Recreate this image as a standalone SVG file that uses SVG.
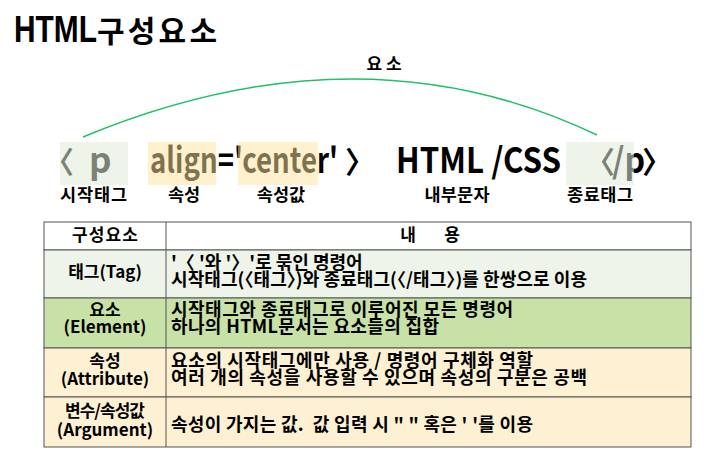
<svg xmlns="http://www.w3.org/2000/svg" width="710" height="457" viewBox="0 0 710 457">
<style>
text{font-family:"Noto Sans CJK KR","Liberation Sans",sans-serif;font-weight:700;fill:#000}
.big{font-size:35px}
.lbl{font-size:17.5px;text-anchor:middle}
.t{font-size:17px}
.r{font-size:18px}
.c{text-anchor:middle}
.cell{stroke:#555;stroke-width:1}
</style>
<rect width="710" height="457" fill="#fff"/>
<g id="title">
<text x="14" y="42" style="font-family:'Liberation Sans',sans-serif;font-size:36px" textLength="83" lengthAdjust="spacingAndGlyphs">HTML</text>
<text x="97" y="42" style="font-size:30px" textLength="120" lengthAdjust="spacing">구성요소</text>
</g>
<g id="element-label">
<text x="384" y="70" style="font-size:17px;text-anchor:middle">요 소</text>
</g>
<g id="connectors">
<path d="M83,137 Q360,22 597,135" fill="none" stroke="#22c06a" stroke-width="1.5"/>
</g>
<g id="start-tag">
<text x="74" y="173" style="font-size:30px;text-anchor:end">〈</text>
<text x="89" y="173" class="big">p</text>
<rect x="60" y="142" width="68" height="43" fill="#e0ebd9" fill-opacity="0.55"/>
<text x="93.5" y="201" class="lbl" textLength="67" lengthAdjust="spacing">시작태그</text>
</g>
<g id="attribute">
<text x="150" y="173" class="big" textLength="188" lengthAdjust="spacingAndGlyphs">align='center'</text>
<text x="345" y="173" style="font-size:30px">〉</text>
<rect x="148" y="142" width="68" height="43" fill="#ffe39c" fill-opacity="0.5"/>
<rect x="238" y="142" width="80" height="43" fill="#ffe39c" fill-opacity="0.5"/>
<text x="184" y="201" class="lbl">속성</text>
<text x="281" y="201" class="lbl">속성값</text>
</g>
<g id="content">
<text x="396" y="173" class="big" textLength="165" lengthAdjust="spacingAndGlyphs">HTML /CSS</text>
<text x="457" y="201" class="lbl" textLength="65" lengthAdjust="spacing">내부문자</text>
</g>
<g id="end-tag">
<text x="615" y="173" style="font-size:30px;text-anchor:end">〈</text>
<text x="612" y="173" class="big" textLength="33" lengthAdjust="spacingAndGlyphs">/p</text>
<text x="642" y="173" style="font-size:30px">〉</text>
<rect x="566" y="142" width="68" height="43" fill="#e0ebd9" fill-opacity="0.55"/>
<text x="600" y="201" class="lbl" textLength="66" lengthAdjust="spacing">종료태그</text>
</g>
<g id="table">
<rect x="44" y="222" width="647" height="28" fill="#fff" class="cell"/>
<rect x="44" y="250" width="647" height="48" fill="#eef4ea" class="cell"/>
<rect x="44" y="298" width="647" height="50" fill="#c7e1a7" class="cell"/>
<rect x="44" y="348" width="647" height="49" fill="#fdf0d3" class="cell"/>
<rect x="44" y="397" width="647" height="50" fill="#fdf0d3" class="cell"/>
<line x1="166" y1="222" x2="166" y2="447" class="cell"/>
</g>
<g id="row-header">
<text x="105" y="241" class="t c" textLength="66" lengthAdjust="spacing">구성요소</text>
<text x="408" y="241" class="t c">내</text>
<text x="452" y="241" class="t c">용</text>
</g>
<g id="row-tag">
<text x="105" y="278" class="t c">태그(Tag)</text>
<text x="171" y="269" class="r">'〈 '와 '〉'로 묶인 명령어</text>
<text x="171" y="286" class="r" textLength="416" lengthAdjust="spacing">시작태그(〈태그〉)와 종료태그(〈/태그〉)를 한쌍으로 이용</text>
</g>
<g id="row-element">
<text x="105" y="316" class="t c">요소</text>
<text x="105" y="333" class="t c">(Element)</text>
<text x="171" y="316" class="r" textLength="342" lengthAdjust="spacing">시작태그와 종료태그로 이루어진 모든 명령어</text>
<text x="171" y="333" class="r" textLength="268" lengthAdjust="spacing">하나의 HTML문서는 요소들의 집합</text>
</g>
<g id="row-attribute">
<text x="105" y="367" class="t c">속성</text>
<text x="105" y="385" class="t c">(Attribute)</text>
<text x="171" y="367" class="r" textLength="362" lengthAdjust="spacing">요소의 시작태그에만 사용 / 명령어 구체화 역할</text>
<text x="171" y="384" class="r" textLength="416" lengthAdjust="spacing">여러 개의 속성을 사용할 수 있으며 속성의 구분은 공백</text>
</g>
<g id="row-argument">
<text x="105" y="417" class="t c" textLength="80" lengthAdjust="spacing">변수/속성값</text>
<text x="105" y="436" class="t c">(Argument)</text>
<text x="171" y="431" class="r" xml:space="preserve" textLength="362" lengthAdjust="spacing">속성이 가지는 값.  값 입력 시 " " 혹은 ' '를 이용</text>
</g>
</svg>
